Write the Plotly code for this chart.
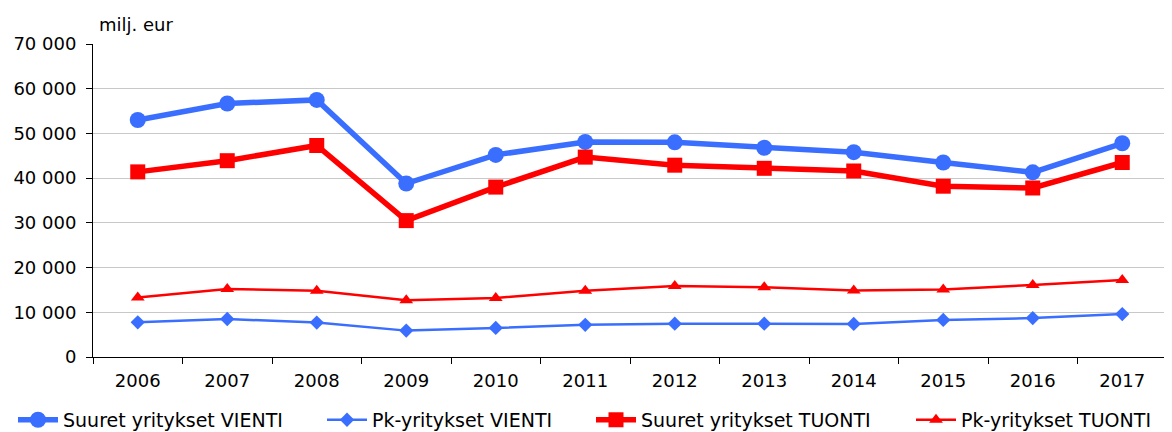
import plotly.graph_objects as go

years = ["2006", "2007", "2008", "2009", "2010", "2011", "2012", "2013", "2014", "2015", "2016", "2017"]
suuret_vienti = [53000, 56700, 57500, 38800, 45200, 48100, 48000, 46800, 45800, 43500, 41300, 47800]
pk_vienti = [7750, 8500, 7700, 5900, 6500, 7200, 7450, 7450, 7400, 8300, 8700, 9600]
suuret_tuonti = [41400, 43900, 47300, 30500, 38000, 44700, 42900, 42200, 41600, 38200, 37800, 43500]
pk_tuonti = [13300, 15200, 14800, 12700, 13200, 14800, 15900, 15600, 14900, 15100, 16100, 17200]

y_ticks = [0, 10000, 20000, 30000, 40000, 50000, 60000, 70000]

blue = "#3A6EFF"
red = "#FF0000"
font_family = "DejaVu Sans, Arial, sans-serif"

fig = go.Figure()
fig.add_trace(go.Scatter(x=years, y=suuret_vienti, name="Suuret yritykset VIENTI",
                         mode="lines+markers", line=dict(color=blue, width=5.5),
                         marker=dict(symbol="circle", size=16, color=blue), legend="legend"))
fig.add_trace(go.Scatter(x=years, y=pk_vienti, name="Pk-yritykset VIENTI",
                         mode="lines+markers", line=dict(color=blue, width=2.5),
                         marker=dict(symbol="diamond", size=11, color=blue), legend="legend2"))
fig.add_trace(go.Scatter(x=years, y=suuret_tuonti, name="Suuret yritykset TUONTI",
                         mode="lines+markers", line=dict(color=red, width=5.5),
                         marker=dict(symbol="square", size=15, color=red), legend="legend3"))
fig.add_trace(go.Scatter(x=years, y=pk_tuonti, name="Pk-yritykset TUONTI",
                         mode="lines+markers", line=dict(color=red, width=2.5),
                         marker=dict(symbol="triangle-up", size=12, color=red), legend="legend4"))

W = 1164
legend_starts = [5, 314, 583, 903]  # px in figure coords


def legend_cfg(px):
    return dict(orientation="h", xref="container", x=px / W, xanchor="left",
                yref="paper", y=-0.201, yanchor="middle",
                font=dict(size=19), itemwidth=40, bgcolor="rgba(0,0,0,0)")


fig.update_layout(
    width=W, height=424,
    margin=dict(l=85, r=5, t=36, b=75, autoexpand=False, pad=0),
    paper_bgcolor="white", plot_bgcolor="white",
    font=dict(family=font_family, size=18, color="black"),
    separators=". ",
    showlegend=True,
    legend=legend_cfg(legend_starts[0]),
    legend2=legend_cfg(legend_starts[1]),
    legend3=legend_cfg(legend_starts[2]),
    legend4=legend_cfg(legend_starts[3]),
    annotations=[dict(text="milj. eur", xref="paper", yref="paper", x=0.0037, y=1.061,
                      xanchor="left", yanchor="middle", showarrow=False,
                      font=dict(size=18))],
)
fig.update_xaxes(type="category", showline=True, linecolor="black", linewidth=1,
                 ticks="outside", tickson="boundaries", ticklen=6, tickcolor="black",
                 ticklabelstandoff=7, showgrid=False, range=[-0.5, 11.5])
fig.update_yaxes(range=[0, 70000], tickvals=y_ticks, tickformat=",d",
                 showline=True, linecolor="black", linewidth=1,
                 ticks="outside", ticklen=6, tickcolor="black", ticklabelstandoff=6,
                 showgrid=True, gridcolor="#C8C8C8", gridwidth=1.3, zeroline=False)

fig.write_html("out.html")
